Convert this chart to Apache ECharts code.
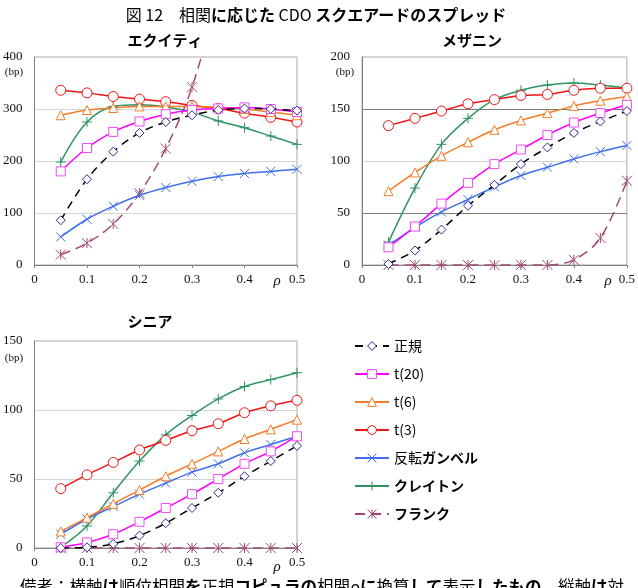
<!DOCTYPE html>
<html>
<head>
<meta charset="utf-8">
<script src="https://cdn.jsdelivr.net/npm/echarts@6/dist/echarts.min.js"></script>
<style>
html, body { margin: 0; padding: 0; background: #fff; }
#chart { width: 638px; height: 588px; }
</style>
</head>
<body>
<div id="chart"></div>
<script>
// correlation (x axis)
const rho = [0.05, 0.1, 0.15, 0.2, 0.25, 0.3, 0.35, 0.4, 0.45, 0.5];
const copulas = ['正規', 't(20)', 't(6)', 't(3)', '反転ガンベル', 'クレイトン', 'フランク'];

// エクイティ (bp)
const eqNormal  = [86, 165, 218, 254, 275, 288, 298, 301, 300, 297];
const eqT20     = [180, 225, 256, 276, 290, 298, 301, 303, 300, 294];
const eqT6      = [288, 298, 302, 305, 305, 305, 303, 300, 294, 288];
const eqT3      = [336, 331, 324, 319, 314, 307, 301, 292, 284, 275];
const eqGumbel  = [54, 88, 113, 134, 149, 161, 170, 176, 180, 184];
const eqClayton = [198, 275, 305, 308, 304, 294, 277, 264, 248, 232];
const eqFrank   = [20, 42, 79, 138, 224, 342, 520, null, null, null];

// メザニン (bp)
const mzNormal  = [1, 14, 34, 57, 77, 97, 113, 127, 138, 148];
const mzT20     = [17, 37, 59, 79, 97, 111, 125, 137, 146, 154];
const mzT6      = [71, 89, 105, 118, 130, 139, 146, 153, 158, 162];
const mzT3      = [134, 141, 148, 155, 159, 163, 164, 168, 170, 170];
const mzGumbel  = [19, 36, 51, 63, 75, 86, 94, 102, 109, 115];
const mzClayton = [22, 74, 116, 141, 159, 168, 173, 175, 173, 170];
const mzFrank   = [0, 0, 0, 0, 0, 0, 0, 5, 26, 81];

// シニア (bp)
const snNormal  = [0, 0.5, 3, 9, 18, 29, 40, 52, 63, 74];
const snT20     = [0.5, 4, 10, 19, 29, 39, 50, 61, 70, 81];
const snT6      = [12, 22, 32, 42, 52, 61, 70, 79, 86, 93];
const snT3      = [43, 53, 62, 71, 78, 85, 90, 98, 103, 107];
const snGumbel  = [10, 21, 30, 39, 47, 55, 61, 69, 75, 81];
const snClayton = [0.5, 16, 40, 63, 82, 96, 108, 117, 122, 127];
const snFrank   = [0, 0, 0, 0, 0, 0, 0, 0, 0, 0];

const panels = [
    [eqNormal, eqT20, eqT6, eqT3, eqGumbel, eqClayton, eqFrank],
    [mzNormal, mzT20, mzT6, mzT3, mzGumbel, mzClayton, mzFrank],
    [snNormal, snT20, snT6, snT3, snGumbel, snClayton, snFrank]
];

const looks = [
    { line: '#000000', mark: '#2b2b8c', symbol: 'diamond', size: 9, dash: [8, 6] },
    { line: '#ff00ff', mark: '#f04cf0', symbol: 'rect', size: 9 },
    { line: '#f57d28', mark: '#f57d28', symbol: 'triangle', size: 9 },
    { line: '#ee1515', mark: '#ee1515', symbol: 'circle', size: 10 },
    { line: '#3f6fec', mark: '#3f6fec', symbol: 'path://M0,0L10,10M10,0L0,10', size: 9 },
    { line: '#2f9462', mark: '#2f9462', symbol: 'path://M5,0L5,10M0,5L10,5', size: 10 },
    { line: '#a3496f', mark: '#a3496f', symbol: 'path://M0,0L10,10M10,0L0,10M5,0L5,10', size: 10, dash: [10, 6] }
];

const serif = 'Liberation Serif';
const sans = 'Noto Sans CJK JP';

// kana ran in a heavier face in the original
const kana = s => s.replace(/[\u3040-\u30ff]+/g, m => '{k|' + m + '}');
const richK = size => ({ k: { fontFamily: sans, fontWeight: 'bold', fontSize: size, color: '#000' } });

const grids = [
    { left: 31, top: 57, width: 266, height: 208 },
    { left: 362, top: 57, width: 266, height: 208 },
    { left: 31, top: 341, width: 266, height: 207 }
];
const yMax = [400, 200, 150];
const yStep = [100, 50, 50];

const xAxes = grids.map((g, i) => ({
    gridIndex: i,
    type: 'value',
    min: 0,
    max: 0.5,
    interval: 0.1,
    axisLine: { lineStyle: { color: '#808080' } },
    axisTick: { show: true, length: 3, lineStyle: { color: '#808080' } },
    axisLabel: { fontFamily: serif, fontSize: 13, color: '#111', margin: 8 },
    splitLine: { show: false }
}));

const yAxes = grids.map((g, i) => ({
    gridIndex: i,
    type: 'value',
    min: 0,
    max: yMax[i],
    interval: yStep[i],
    axisLine: { show: true, lineStyle: { color: '#808080' } },
    axisTick: { show: false },
    axisLabel: { fontFamily: serif, fontSize: 13, color: '#111', margin: 12 },
    splitLine: {
        lineStyle: { color: i === 1 ? ['#d4d4d4', '#7a7a7a'] : '#d4d4d4' }
    }
}));

const series = [];
panels.forEach((sets, p) => {
    sets.forEach((vals, k) => {
        const lk = looks[k];
        series.push({
            name: copulas[k],
            type: 'line',
            xAxisIndex: p,
            yAxisIndex: p,
            data: rho.map((x, j) => [x, vals[j]]),
            smooth: 0.35,
            symbol: lk.symbol,
            symbolSize: lk.size,
            showAllSymbol: true,
            lineStyle: { color: lk.line, width: 1.5, type: lk.dash || 'solid' },
            itemStyle: { color: '#fff', borderColor: lk.mark, borderWidth: 1 },
            z: 10 - k
        });
    });
});

const note = '備考：横軸は順位相関を正規コピュラの相関ρに換算して表示したもの。縦軸は対';

const option = {
    animation: false,
    backgroundColor: '#fff',
    grid: grids.map(g => Object.assign({ show: true, borderColor: '#a8a8a8', borderWidth: 1 }, g)),
    xAxis: xAxes,
    yAxis: yAxes,
    legend: {
        orient: 'vertical',
        left: 349,
        top: 334,
        itemWidth: 34,
        itemHeight: 11,
        itemGap: 14,
        data: copulas,
        itemStyle: { borderWidth: 1 },
        lineStyle: { width: 2 },
        formatter: name => kana(name),
        textStyle: { fontFamily: sans, fontSize: 14, color: '#000', rich: richK(14) }
    },
    graphic: [
        {
            type: 'text',
            style: {
                x: 316, y: 15, align: 'center', verticalAlign: 'middle',
                text: '図 12　相関' + kana('に') + '{k|応}' + kana('じた') + ' CDO ' + kana('スクエアードのスプレッド'),
                fontFamily: sans, fontSize: 16, fill: '#000', rich: richK(16)
            }
        },
        { type: 'text', style: { x: 165, y: 40, align: 'center', verticalAlign: 'middle', text: 'エクイティ', fontFamily: sans, fontWeight: 'bold', fontSize: 15, fill: '#000' } },
        { type: 'text', style: { x: 472, y: 40, align: 'center', verticalAlign: 'middle', text: 'メザニン', fontFamily: sans, fontWeight: 'bold', fontSize: 15, fill: '#000' } },
        { type: 'text', style: { x: 150, y: 321, align: 'center', verticalAlign: 'middle', text: 'シニア', fontFamily: sans, fontWeight: 'bold', fontSize: 15, fill: '#000' } },
        { type: 'text', style: { x: 14, y: 72, align: 'center', verticalAlign: 'middle', text: '(bp)', fontFamily: serif, fontSize: 11, fill: '#111' } },
        { type: 'text', style: { x: 345, y: 72, align: 'center', verticalAlign: 'middle', text: '(bp)', fontFamily: serif, fontSize: 11, fill: '#111' } },
        { type: 'text', style: { x: 14, y: 358, align: 'center', verticalAlign: 'middle', text: '(bp)', fontFamily: serif, fontSize: 11, fill: '#111' } },
        { type: 'text', style: { x: 277, y: 281, align: 'center', verticalAlign: 'middle', text: 'ρ', fontFamily: serif, fontStyle: 'italic', fontSize: 15, fill: '#111' } },
        { type: 'text', style: { x: 608, y: 281, align: 'center', verticalAlign: 'middle', text: 'ρ', fontFamily: serif, fontStyle: 'italic', fontSize: 15, fill: '#111' } },
        { type: 'text', style: { x: 277, y: 567, align: 'center', verticalAlign: 'middle', text: 'ρ', fontFamily: serif, fontStyle: 'italic', fontSize: 15, fill: '#111' } },
        {
            type: 'text',
            style: {
                x: 20, y: 578, align: 'left', verticalAlign: 'top',
                text: kana(note), fontFamily: sans, fontSize: 16.5, fill: '#000', rich: richK(16.5)
            }
        }
    ],
    series: series
};

const chart = echarts.init(document.getElementById('chart'));
chart.setOption(option);
</script>
</body>
</html>
